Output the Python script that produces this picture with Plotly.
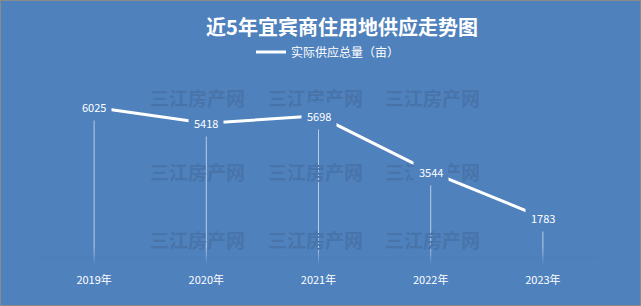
import plotly.graph_objects as go

years = ["2019年", "2020年", "2021年", "2022年", "2023年"]
supply = [6025, 5418, 5698, 3544, 1783]
series_name = "实际供应总量（亩）"
title_text = "近5年宜宾商住用地供应走势图"
watermark = "三江房产网"

BG = "#4f81bd"
FONT = "Noto Sans CJK SC"
W, H = 641, 306
ML, MR, MT, MB = 38, 42, 82, 42
PW, PH = W - ML - MR, H - MT - MB

def px_to_paper(px, py):
    return (px - ML) / PW, (H - MB - py) / PH

fig = go.Figure()
fig.add_trace(go.Scatter(
    x=years, y=supply, mode="lines", name=series_name,
    line=dict(color="white", width=3),
    error_y=dict(type="data", symmetric=False, array=[0] * len(supply),
                 arrayminus=supply, color="rgba(255,255,255,0.6)",
                 thickness=1, width=0),
))

annotations = []
# watermarks
for cy in [82, 171, 255]:
    for cx in [148, 315, 482]:
        ax, ay = px_to_paper(cx, cy)
        annotations.append(dict(x=ax, y=ay, xref="paper", yref="paper",
                                text="<b>" + watermark + "</b>", showarrow=False,
                                font=dict(family=FONT, size=19, color="#4874aa")))
# data labels
for yr, v in zip(years, supply):
    annotations.append(dict(x=yr, y=v, xref="x", yref="y", text=str(v),
                            showarrow=False, bgcolor=BG, borderpad=5,
                            font=dict(family=FONT, size=11, color="white")))

shapes = []
# fade drop lines toward the axis
fade_steps = [(0, 150, 0.85), (150, 300, 0.6), (300, 450, 0.4), (450, 600, 0.2)]
for y0, y1, op in fade_steps:
    shapes.append(dict(type="rect", xref="paper", yref="y", x0=0, x1=1, y0=y0, y1=y1,
                       fillcolor=BG, opacity=op, line=dict(width=0), layer="above"))
# outer border
bx0, by0 = px_to_paper(0, H)
bx1, by1 = px_to_paper(W, 0)
shapes.append(dict(type="rect", xref="paper", yref="paper", x0=bx0, x1=bx1, y0=by0, y1=by1,
                   line=dict(color="#8a8a8a", width=2), fillcolor="rgba(0,0,0,0)", layer="above"))

fig.update_layout(
    width=W, height=H,
    margin=dict(l=ML, r=MR, t=MT, b=MB),
    paper_bgcolor=BG, plot_bgcolor=BG,
    font=dict(family=FONT, color="white"),
    title=dict(text="<b>" + title_text + "</b>", x=342 / W, xref="container", xanchor="center",
               y=1 - 28 / H, yref="container", yanchor="middle",
               font=dict(family=FONT, size=20, color="white")),
    showlegend=True,
    legend=dict(orientation="h", x=328 / W, xref="container", xanchor="center",
                y=1 - 52 / H, yref="container", yanchor="middle",
                font=dict(family=FONT, size=12, color="white"),
                bgcolor="rgba(0,0,0,0)"),
    xaxis=dict(range=[-0.5, len(years) - 0.5], showgrid=False, zeroline=False,
               showline=False, ticks="",
               tickfont=dict(family=FONT, size=11, color="white"), ticklabelstandoff=8),
    yaxis=dict(range=[0, 7000], visible=False),
    annotations=annotations,
    shapes=shapes,
)

fig.write_html("out.html")
